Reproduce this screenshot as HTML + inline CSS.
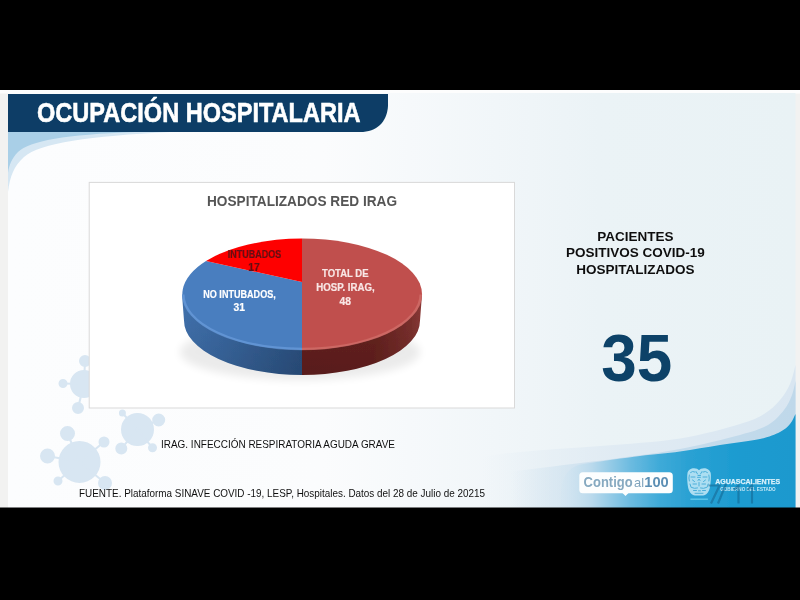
<!DOCTYPE html>
<html><head><meta charset="utf-8">
<style>
html,body{margin:0;padding:0;background:#000;}
body{width:800px;height:600px;overflow:hidden;position:relative;font-family:"Liberation Sans",sans-serif;}
svg{position:absolute;left:0;top:0;display:block}
text{font-family:"Liberation Sans",sans-serif;}
</style></head><body>
<svg width="800" height="600" viewBox="0 0 800 600">
<defs>
  <linearGradient id="bg" x1="0" y1="0" x2="1" y2="0">
    <stop offset="0" stop-color="#fcfdfe"/><stop offset="0.4" stop-color="#fbfcfd"/><stop offset="0.62" stop-color="#f1f6f9"/><stop offset="0.75" stop-color="#ebf3f6"/><stop offset="1" stop-color="#e9f2f5"/>
  </linearGradient>
  <linearGradient id="deep" x1="0" y1="0" x2="1" y2="0">
    <stop offset="0" stop-color="#bfe0f0" stop-opacity="0"/><stop offset="0.25" stop-color="#4fb3da"/><stop offset="0.5" stop-color="#22a0d1"/><stop offset="1" stop-color="#1a9bd0"/>
  </linearGradient>
  <linearGradient id="mid" x1="0" y1="0" x2="1" y2="0">
    <stop offset="0" stop-color="#d6e8f4" stop-opacity="0"/><stop offset="0.5" stop-color="#cfe3f1"/><stop offset="1" stop-color="#b9d6ea"/>
  </linearGradient>
  <linearGradient id="wlight" gradientUnits="userSpaceOnUse" x1="440" y1="0" x2="795" y2="0">
    <stop offset="0.12" stop-color="#dfeaf3" stop-opacity="0"/><stop offset="0.5" stop-color="#dfeaf3" stop-opacity="0.9"/><stop offset="1" stop-color="#d9e6f1"/>
  </linearGradient>
  <linearGradient id="wmid" gradientUnits="userSpaceOnUse" x1="440" y1="0" x2="795" y2="0">
    <stop offset="0.2" stop-color="#c6dded" stop-opacity="0"/><stop offset="0.48" stop-color="#c6dded" stop-opacity="0.9"/><stop offset="1" stop-color="#bfd8ea"/>
  </linearGradient>
  <linearGradient id="wdeep" gradientUnits="userSpaceOnUse" x1="560" y1="0" x2="795" y2="0">
    <stop offset="0" stop-color="#d3e6f2" stop-opacity="0.3"/><stop offset="0.136" stop-color="#b9d9ec"/><stop offset="0.3" stop-color="#6cbbe0"/><stop offset="0.425" stop-color="#3eaad8"/><stop offset="0.55" stop-color="#2aa1d3"/><stop offset="0.77" stop-color="#1c9bd0"/><stop offset="1" stop-color="#1a99ce"/>
  </linearGradient>
  <linearGradient id="redside" gradientUnits="userSpaceOnUse" x1="302" y1="0" x2="422" y2="0">
    <stop offset="0" stop-color="#64211f"/><stop offset="0.6" stop-color="#66221f"/><stop offset="0.9" stop-color="#7b302d"/><stop offset="1" stop-color="#8c3a37"/>
  </linearGradient>
  <linearGradient id="blueside" gradientUnits="userSpaceOnUse" x1="182" y1="0" x2="302" y2="0">
    <stop offset="0" stop-color="#4172ae"/><stop offset="0.3" stop-color="#3b6aa4"/><stop offset="1" stop-color="#2c5282"/>
  </linearGradient>
  <clipPath id="content"><rect x="0" y="90" width="800" height="417.5"/></clipPath>
  <clipPath id="leftHalf"><rect x="170" y="230" width="132" height="160"/></clipPath>
  <clipPath id="rightHalf"><rect x="302" y="230" width="132" height="160"/></clipPath>
  <clipPath id="topEll"><ellipse cx="302" cy="294.500" rx="120" ry="55.750"/></clipPath>
  <linearGradient id="sideshade" x1="0" y1="0" x2="0" y2="1">
    <stop offset="0" stop-color="#000" stop-opacity="0"/><stop offset="1" stop-color="#000" stop-opacity="0.12"/>
  </linearGradient>
  <filter id="blur4" x="-20%" y="-50%" width="140%" height="200%"><feGaussianBlur stdDeviation="4"/></filter>
  <filter id="soft" x="0" y="0" width="100%" height="100%" filterUnits="userSpaceOnUse"><feGaussianBlur stdDeviation="0.45"/></filter>
  <filter id="blur1"><feGaussianBlur stdDeviation="0.6"/></filter>
</defs>
<rect x="0" y="0" width="800" height="600" fill="#000"/>
<g clip-path="url(#content)"><g filter="url(#soft)">
  <rect x="0" y="90" width="800" height="418" fill="#f2f2f1"/><rect x="0" y="90" width="800" height="3.5" fill="#fdfdfd"/>
  <rect x="8" y="93" width="787.5" height="415" fill="url(#bg)"/>
  <!-- top-left light curve -->
  <path d="M8,132 L170,132 C90,136 40,143 24,157 C14,166 10,176 8,192 Z" fill="#d6e7f3"/>
  <path d="M8,132 L135,132 C65,134.500 30,141 18,152 C12,158 9,165 8,173 Z" fill="#a9cfe7"/>
  <!-- bottom right waves -->
  <path d="M440.0,462.0 C453.3,460.3 493.3,454.7 520.0,452.0 C546.7,449.3 573.3,448.2 600.0,446.0 C626.7,443.8 656.7,442.2 680.0,438.5 C703.3,434.8 726.0,428.1 740.0,424.0 C754.0,419.9 757.3,418.0 764.0,414.0 C770.7,410.0 775.7,405.0 780.0,400.0 C784.3,395.0 787.4,389.8 790.0,384.0 C792.6,378.2 794.6,368.2 795.5,365.0 L795.5,508 L440.0,508 Z" fill="url(#wlight)"/>
  <path d="M440.0,480.0 C456.7,478.0 510.0,471.7 540.0,468.0 C570.0,464.3 596.7,461.2 620.0,458.0 C643.3,454.8 660.0,452.8 680.0,449.0 C700.0,445.2 725.3,439.0 740.0,435.0 C754.7,431.0 760.7,429.2 768.0,425.0 C775.3,420.8 780.0,415.0 784.0,410.0 C788.0,405.0 790.1,399.8 792.0,395.0 C793.9,390.2 794.9,383.3 795.5,381.0 L795.5,508 L440.0,508 Z" fill="url(#wmid)"/>
  <path d="M560.0,508.0 C560.2,505.0 560.2,495.3 561.0,490.0 C561.8,484.7 562.8,479.8 565.0,476.0 C567.2,472.2 569.8,469.2 574.0,467.0 C578.2,464.8 579.0,464.8 590.0,463.0 C601.0,461.2 625.0,457.9 640.0,456.0 C655.0,454.1 666.7,453.3 680.0,451.5 C693.3,449.7 706.7,447.1 720.0,445.0 C733.3,442.9 750.0,441.2 760.0,439.0 C770.0,436.8 775.0,434.5 780.0,432.0 C785.0,429.5 787.4,427.0 790.0,424.0 C792.6,421.0 794.6,415.7 795.5,414.0 L795.5,508 L560.0,508 Z" fill="url(#wdeep)"/>
  <!-- virus shapes -->
  <g fill="#d8e6f2" stroke="#d8e6f2" stroke-width="2">
    <circle cx="79.5" cy="462" r="20"/>
    <line x1="79.5" y1="462" x2="67.5" y2="433.5"/><circle cx="67.5" cy="433.5" r="6.5"/>
    <line x1="79.5" y1="462" x2="47.5" y2="456"/><circle cx="47.5" cy="456" r="6.5"/>
    <line x1="79.5" y1="462" x2="104" y2="442"/><circle cx="104" cy="442" r="4.5"/>
    <line x1="79.5" y1="462" x2="105" y2="483"/><circle cx="105" cy="483" r="6"/>
    <line x1="79.5" y1="462" x2="58" y2="481"/><circle cx="58" cy="481" r="3.5"/>
    <circle cx="137.5" cy="429.5" r="15.5"/>
    <line x1="137.5" y1="429.5" x2="158.7" y2="420"/><circle cx="158.7" cy="420" r="5.5"/>
    <line x1="137.5" y1="429.5" x2="121.3" y2="448.6"/><circle cx="121.3" cy="448.6" r="5"/>
    <line x1="137.5" y1="429.5" x2="152.5" y2="447.8"/><circle cx="152.5" cy="447.8" r="3.5"/>
    <line x1="137.5" y1="429.5" x2="122.4" y2="413"/><circle cx="122.4" cy="413" r="2.5"/>
    <circle cx="84" cy="384" r="13"/>
    <line x1="84" y1="384" x2="85" y2="361"/><circle cx="85" cy="361" r="5"/>
    <line x1="84" y1="384" x2="63" y2="383.5"/><circle cx="63" cy="383.5" r="3.5"/>
    <line x1="84" y1="384" x2="78" y2="408"/><circle cx="78" cy="408" r="5"/>
  </g>
  <!-- banner -->
  <path d="M8,94 L388,94 L388,106 C387,122 377,132 360,132 L8,132 Z" fill="#083e66"/>
  <text x="37" y="122" font-size="28.500" font-weight="bold" fill="#fff" stroke="#fff" stroke-width="0.600" textLength="323.500" lengthAdjust="spacingAndGlyphs">OCUPACIÓN HOSPITALARIA</text>
  <!-- chart box -->
  <rect x="89.200" y="182.400" width="425.300" height="225.600" fill="#fff" stroke="#d9d9d9" stroke-width="1"/>
  <text x="207" y="206" font-size="14.5" font-weight="bold" fill="#555" textLength="190" lengthAdjust="spacingAndGlyphs">HOSPITALIZADOS RED IRAG</text>
  <!-- pie -->
  <ellipse cx="300" cy="352" rx="120" ry="28" fill="#000" opacity="0.08" filter="url(#blur4)"/>
  <g>
    <!-- side -->
    <g clip-path="url(#leftHalf)">
      <path d="M182,294.500 L184,320.500 A118,54.500 0 0 0 420,320.500 L422,294.500 Z" fill="url(#blueside)"/>
    </g>
    <g clip-path="url(#rightHalf)">
      <path d="M182,294.500 L184,320.500 A118,54.500 0 0 0 420,320.500 L422,294.500 Z" fill="url(#redside)"/>
    </g>
    <path d="M182,294.500 L184,320.500 A118,54.500 0 0 0 420,320.500 L422,294.500 Z" fill="url(#sideshade)"/>
    <!-- top -->
    <path d="M302,282 L302,238.500 A120,55.750 0 0 1 302,350 Z" fill="#c0504d"/>
    <path d="M302,282 L302,350 A120,55.750 0 0 1 206,261 Z" fill="#4a7ebf"/>
    <path d="M302,282 L206,261 A120,55.750 0 0 1 302,238.500 Z" fill="#fe0000"/>
    <!-- rim bevel -->
    <g clip-path="url(#topEll)">
      <path d="M182,294.500 A120,55.750 0 0 0 302,350.250" fill="none" stroke="#7fb0ee" stroke-opacity="0.45" stroke-width="5" filter="url(#blur1)"/>
      <path d="M302,350.250 A120,55.750 0 0 0 422,294.500" fill="none" stroke="#e08a86" stroke-opacity="0.4" stroke-width="5" filter="url(#blur1)"/>
    </g>
  </g>
  <g font-weight="bold" font-size="10.800" text-anchor="middle" stroke-width="0.200">
    <text x="254.600" y="258.300" fill="#650d12" stroke="#650d12" textLength="53.500" lengthAdjust="spacingAndGlyphs">INTUBADOS</text>
    <text x="254" y="270.700" fill="#650d12" stroke="#650d12" textLength="11.500" lengthAdjust="spacingAndGlyphs">17</text>
    <text x="239.500" y="297.800" fill="#fff" stroke="#fff" textLength="72.500" lengthAdjust="spacingAndGlyphs">NO INTUBADOS,</text>
    <text x="239.300" y="310.800" fill="#fff" stroke="#fff" textLength="11.500" lengthAdjust="spacingAndGlyphs">31</text>
    <text x="345.300" y="277.200" fill="#f8e6e5" stroke="#f8e6e5" textLength="46.500" lengthAdjust="spacingAndGlyphs">TOTAL DE</text>
    <text x="345.500" y="291.200" fill="#f8e6e5" stroke="#f8e6e5" textLength="58.500" lengthAdjust="spacingAndGlyphs">HOSP. IRAG,</text>
    <text x="345.300" y="305.200" fill="#f8e6e5" stroke="#f8e6e5" textLength="11.500" lengthAdjust="spacingAndGlyphs">48</text>
  </g>
  <!-- right text -->
  <g font-weight="bold" font-size="13.500" text-anchor="middle" fill="#111">
    <text x="635.500" y="241.300">PACIENTES</text>
    <text x="635.500" y="257">POSITIVOS COVID-19</text>
    <text x="635.500" y="273.500">HOSPITALIZADOS</text>
  </g>
  <text x="636.800" y="381" font-size="67" font-weight="bold" fill="#0d4268" text-anchor="middle" textLength="71" lengthAdjust="spacingAndGlyphs">35</text>
  <!-- footnotes -->
  <text x="161" y="448" font-size="10.500" fill="#111" textLength="234" lengthAdjust="spacingAndGlyphs">IRAG. INFECCIÓN RESPIRATORIA AGUDA GRAVE</text>
  <text x="79" y="497" font-size="10.500" fill="#111" textLength="406" lengthAdjust="spacingAndGlyphs">FUENTE. Plataforma SINAVE COVID -19, LESP, Hospitales. Datos del 28 de Julio de 20215</text>
  <!-- contigo logo -->
  <g>
    <rect x="579.300" y="472.300" width="93.500" height="21" rx="3.500" fill="#fdfefe"/>
    <path d="M622.500,493 l3,3 l3,-3 z" fill="#fdfefe"/>
    <text x="583.600" y="487.400" font-size="14.600" font-weight="bold" fill="#86a9c0" textLength="49" lengthAdjust="spacingAndGlyphs">Contigo</text>
    <text x="634" y="487.400" font-size="13.500" fill="#7fa4bd" textLength="10" lengthAdjust="spacingAndGlyphs">al</text>
    <text x="644.300" y="487.400" font-size="14.600" font-weight="bold" fill="#5c8fb4" textLength="24.500" lengthAdjust="spacingAndGlyphs">100</text>
  </g>
  <!-- crest + aguascalientes -->
  <g>
    <path d="M687.500,473 C688,470 691,468.300 694,468.300 C696.500,468.300 698,469 699,470.300 C700,469 701.500,468.300 704,468.300 C707,468.300 710,470 710.700,473 C711.200,476 710.800,481 710.300,485 C709.800,489 708.500,492.500 706.500,494 C705,495.300 703.500,495.600 702,495.600 L696,495.600 C694.500,495.600 693,495.300 691.500,494 C689.500,492.500 688.200,489 687.700,485 C687.200,481 687,476 687.500,473 Z" fill="#c4e9f7" opacity="0.85"/>
    <g stroke="#2a9fd1" stroke-width="1" fill="none" opacity="0.75" stroke-linecap="round">
      <path d="M690.500,472.500 q2,-2 4.500,-0.500 M703,472 q2.500,-1.500 4.500,0.500"/>
      <path d="M696,471.500 l1.500,2.500 M702,471.500 l-1.500,2.500 M698,475.500 h2.500"/>
      <path d="M691,477 h4 M697.500,477.300 h3 M703,477 h4"/>
      <path d="M692.500,480 l2,1.500 M705.500,480 l-2,1.500 M698,480.500 l1,-1.500 l1,1.500"/>
      <path d="M699,482.500 v3.500 M693,484 h3.500 M702,484 h3.500"/>
      <path d="M691.500,487.500 q3,1.500 6,0.500 M700.500,488 q3,1 6,-0.500"/>
      <path d="M693.500,490.500 h3 M698.500,490.800 h2 M702.500,490.500 h3"/>
      <path d="M695,493.300 h8"/>
      <path d="M689.300,475 q-0.800,3 0,6 M708.900,475 q0.800,3 0,6 M690,484 l1,3 M708.200,484 l-1,3"/>
    </g>
    <rect x="690.400" y="498.600" width="17.500" height="1.100" fill="#6fd3f1"/>
  </g>
  <text x="715.200" y="484" font-size="7.400" font-weight="bold" fill="#d9f1fb" stroke="#d9f1fb" stroke-width="0.250" textLength="65" lengthAdjust="spacingAndGlyphs">AGUASCALIENTES</text>
  <text x="720.200" y="490.600" font-size="4.700" font-weight="bold" fill="#c5e8f6" textLength="55.500" lengthAdjust="spacingAndGlyphs">GOBIERNO DEL ESTADO</text>
  <g stroke="#14648f" opacity="0.55" stroke-width="2.200" fill="none" stroke-linejoin="miter">
    <path d="M708.500,485.500 L719.500,485.500 L711,503.500"/>
    <path d="M726,484 L718,503.500"/>
    <path d="M734,490 L738.500,485.500 L738.500,503.500"/>
    <path d="M747.500,490 L752,485.500 L752,503.500"/>
  </g>
</g></g>
</svg>
</body></html>
